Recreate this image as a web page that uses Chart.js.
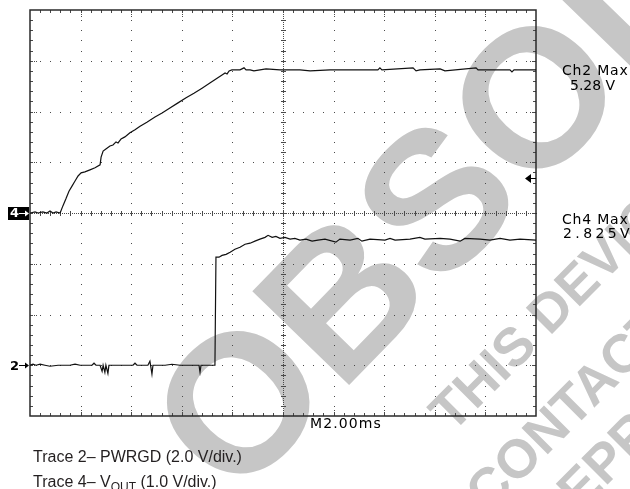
<!DOCTYPE html>
<html>
<head>
<meta charset="utf-8">
<title>PWRGD / VOUT scope capture</title>
<script src="https://cdn.jsdelivr.net/npm/chart.js@4.4.0/dist/chart.umd.min.js"></script>
<style>
  html, body { margin: 0; padding: 0; background: #fff; }
  #wrap { position: relative; width: 630px; height: 489px; overflow: hidden; }
  #scope { position: absolute; left: 0; top: 0; }
  .cap { position: absolute; left: 33px; font: 16px "Liberation Sans", Arial, sans-serif; color: #231f20; white-space: nowrap; }
  .cap sub { font-size: 12px; vertical-align: -4px; line-height: 0; }
</style>
</head>
<body>
<div id="wrap">
  <canvas id="scope" width="630" height="489"></canvas>
  <div class="cap" style="top:448px">Trace 2– PWRGD (2.0 V/div.)</div>
  <div class="cap" style="top:473px">Trace 4– V<sub>OUT</sub> (1.0 V/div.)</div>
</div>
<script>
// ===== SCOPE CAPTURE: M2.00ms/div, ch2 2 V/div, ch4 1 V/div =====

// Trace 4 - VOUT (time in ms, volts)
const t4 = [0, 0.20, 0.32, 0.51, 0.67, 0.79, 0.91, 1.03, 1.19, 1.30, 1.42, 1.54, 1.66, 1.78, 1.90,
  2.02, 2.17, 2.37, 2.57, 2.77, 2.81, 2.89, 3.00, 3.16, 3.28, 3.40, 3.48, 3.60, 3.75, 3.95,
  4.15, 4.35, 4.62, 4.94, 5.22, 5.53, 5.85, 6.17, 6.48, 6.80, 7.11, 7.35, 7.59, 7.71, 7.79,
  7.87, 7.98, 8.30, 8.46, 8.54, 8.70, 8.85, 9.09, 9.33, 9.88, 10.67, 11.07, 11.86, 13.75, 13.83,
  13.91, 15.14, 15.26, 15.41, 16.21, 16.40, 17.63, 17.71, 18.97, 19.05, 19.13, 20];
const v4 = [0, 0.02, 0, 0.02, 0, 0.04, 0, 0.02, 0, 0.14, 0.28, 0.43, 0.53, 0.63, 0.73,
  0.79, 0.81, 0.85, 0.89, 0.95, 1.10, 1.22, 1.26, 1.32, 1.34, 1.40, 1.38, 1.46, 1.50, 1.58,
  1.64, 1.71, 1.79, 1.89, 1.97, 2.07, 2.17, 2.27, 2.36, 2.46, 2.56, 2.64, 2.72, 2.76, 2.74,
  2.80, 2.82, 2.82, 2.86, 2.82, 2.82, 2.80, 2.82, 2.84, 2.82, 2.82, 2.80, 2.82, 2.82, 2.86,
  2.82, 2.86, 2.80, 2.82, 2.84, 2.80, 2.86, 2.82, 2.82, 2.78, 2.82, 2.82];

// Trace 2 - PWRGD (time in ms, volts)
const t2 = [0, 0.12, 0.24, 0.40, 0.59, 0.79, 1.11, 1.58, 1.78, 1.98, 2.45, 2.53, 2.61, 2.77, 2.85,
  2.89, 2.96, 3.00, 3.08, 3.12, 3.56, 4.07, 4.15, 4.23, 4.66, 4.74, 4.82, 4.86, 5.34, 5.61,
  5.93, 6.25, 6.68, 6.72, 6.76, 7.31, 7.35, 7.47, 7.59, 7.75, 7.91, 8.10, 8.30, 8.50, 8.70,
  8.89, 9.09, 9.29, 9.41, 9.57, 9.72, 9.88, 10.08, 10.28, 10.47, 10.67, 10.91, 11.15, 11.38, 11.66,
  12.09, 12.25, 12.65, 12.96, 13.12, 13.44, 14.03, 14.23, 14.43, 15.02, 15.41, 15.61, 16.21, 16.60, 17.00,
  17.19, 17.79, 18.18, 18.58, 18.97, 19.37, 20];
const v2 = [0, 0.04, 0, 0.04, 0, -0.04, 0, 0, 0.04, 0, 0, 0.08, 0, 0, -0.24,
  0, -0.28, 0, -0.32, 0, 0, 0, 0.08, 0, 0, 0.16, -0.35, 0, 0, 0.04,
  0, 0, 0, -0.28, 0, 0, 4.26, 4.26, 4.33, 4.37, 4.45, 4.57, 4.65, 4.77, 4.81,
  4.89, 4.97, 5.04, 5.12, 5.04, 5.08, 5.00, 5.04, 4.97, 5.00, 4.93, 4.97, 4.89, 4.93, 4.97,
  4.85, 4.97, 4.93, 5.00, 4.89, 4.97, 4.93, 5.00, 4.93, 4.97, 5.04, 4.97, 5.00, 4.97, 4.89,
  5.00, 4.97, 4.93, 5.00, 4.93, 4.97, 4.93];

// Scope readouts
const ch2Max = ['Ch2 Max', '5.28 V'];
const ch4Max = ['Ch4 Max', '2.825V'];
const timebase = 'M2.00ms';

// Watermark text
const stamp = 'OBSOLETE';
const notice = ['THIS DEVICE IS OBSOLETE', 'CONTACT YOUR ON SEMICONDUCTOR', 'REPRESENTATIVE FOR INFORMATION'];

const INK = '#111';
const GRID = '#4a4a4a';
const STAMP = '#c6c6c6';

const toXY = (ts, vs) => ts.map((t, i) => ({ x: t, y: vs[i] }));

// big grey stamp behind everything
const watermark = {
  id: 'watermark',
  beforeDraw(chart) {
    const ctx = chart.ctx;
    ctx.save();
    ctx.fillStyle = STAMP;
    ctx.translate(234, 504);
    ctx.rotate(-45.9 * Math.PI / 180);
    ctx.font = 'bold 196px "Liberation Sans", Arial, sans-serif';
    ctx.textBaseline = 'alphabetic';
    ctx.fillText(stamp, 0, 0);
    ctx.restore();

    ctx.save();
    ctx.fillStyle = STAMP;
    ctx.font = 'bold 54px "Liberation Sans", Arial, sans-serif';
    const starts = [[452, 434], [488, 514], [552, 540]];
    notice.forEach((s, i) => {
      ctx.save();
      ctx.translate(starts[i][0], starts[i][1]);
      ctx.rotate(-45 * Math.PI / 180);
      ctx.fillText(s, 0, 0);
      ctx.restore();
    });
    ctx.restore();
  }
};

// graticule: 10 x 8 divisions, 5 minor steps each
const graticule = {
  id: 'graticule',
  beforeDatasetsDraw(chart) {
    const { ctx, chartArea: a } = chart;
    const w = a.right - a.left, h = a.bottom - a.top;
    const dx = w / 50, dy = h / 40;
    const dot = (px, py) => ctx.fillRect(Math.round(px), Math.round(py), 1, 1);
    ctx.save();
    ctx.fillStyle = GRID;

    // vertical division lines
    for (let i = 1; i < 10; i++) {
      const px = a.left + i * w / 10;
      if (i === 5) {
        for (let py = a.top; py <= a.bottom; py += 2) dot(px, py);
        for (let j = 1; j < 40; j++) ctx.fillRect(Math.round(px) - 2, Math.round(a.top + j * dy), 5, 1);
      } else {
        for (let j = 1; j < 40; j++) dot(px, a.top + j * dy);
        for (let k = 2; k <= 6; k += 2) { dot(px, a.top + k); dot(px, a.bottom - k); }
      }
    }
    // horizontal division lines
    for (let i = 1; i < 8; i++) {
      const py = a.top + i * h / 8;
      if (i === 4) {
        for (let px = a.left; px <= a.right; px += 2) dot(px, py);
        for (let j = 1; j < 50; j++) ctx.fillRect(Math.round(a.left + j * dx), Math.round(py) - 2, 1, 5);
      } else {
        for (let j = 1; j < 50; j++) dot(a.left + j * dx, py);
        for (let k = 2; k <= 6; k += 2) { dot(a.left + k, py); dot(a.right - k, py); }
      }
    }
    // border minor ticks
    for (let j = 1; j < 50; j++) {
      const px = Math.round(a.left + j * dx);
      ctx.fillRect(px, Math.round(a.top), 1, 3);
      ctx.fillRect(px, Math.round(a.bottom) - 3, 1, 3);
    }
    for (let j = 1; j < 40; j++) {
      const py = Math.round(a.top + j * dy);
      ctx.fillRect(Math.round(a.left), py, 3, 1);
      ctx.fillRect(Math.round(a.right) - 3, py, 3, 1);
    }
    ctx.strokeStyle = '#2a2a2a';
    ctx.lineWidth = 1.5;
    ctx.strokeRect(a.left, a.top, w, h);
    ctx.restore();
  }
};

// channel markers and readouts
const readouts = {
  id: 'readouts',
  afterDraw(chart) {
    const { ctx, chartArea: a, scales: { y2, y4 } } = chart;
    ctx.save();
    // ch4 ground marker (inverted box)
    const g4 = Math.round(y4.getPixelForValue(0));
    ctx.fillStyle = '#000';
    ctx.fillRect(8, g4 - 6, 21, 13);
    ctx.fillStyle = '#fff';
    ctx.font = 'bold 13px "DejaVu Sans", sans-serif';
    ctx.textBaseline = 'middle';
    ctx.fillText('4', 10, g4 + 1);
    ctx.fillRect(19, g4, 8, 1);
    ctx.beginPath(); ctx.moveTo(29, g4 + 0.5); ctx.lineTo(25, g4 - 2.5); ctx.lineTo(25, g4 + 3.5); ctx.fill();

    // ch2 ground marker
    const g2 = Math.round(y2.getPixelForValue(0));
    ctx.fillStyle = '#000';
    ctx.fillText('2', 10, g2 + 2);
    ctx.fillRect(19, g2, 8, 1);
    ctx.beginPath(); ctx.moveTo(29, g2 + 0.5); ctx.lineTo(25, g2 - 2.5); ctx.lineTo(25, g2 + 3.5); ctx.fill();

    // trigger level marker on right edge
    const tr = 178;
    ctx.beginPath(); ctx.moveTo(a.right - 11, tr + 0.5); ctx.lineTo(a.right - 5, tr - 4); ctx.lineTo(a.right - 5, tr + 5); ctx.fill();
    ctx.fillRect(a.right - 6, tr, 6, 1);

    // readouts
    ctx.textBaseline = 'alphabetic';
    ctx.font = '14px "DejaVu Sans", sans-serif';
    ctx.letterSpacing = '0.8px';
    ctx.fillText(ch2Max[0], 562, 75);
    ctx.fillText(ch4Max[0], 562, 224);
    ctx.letterSpacing = '0px';
    ctx.fillText(ch2Max[1], 570, 90);
    ctx.letterSpacing = '3.4px';
    ctx.fillText(ch4Max[1], 563, 238);
    ctx.letterSpacing = '1.1px';
    ctx.fillText(timebase, 310, 428);
    ctx.restore();
  }
};

new Chart(document.getElementById('scope'), {
  type: 'line',
  data: {
    datasets: [
      { label: 'Trace 4 - VOUT', data: toXY(t4, v4), yAxisID: 'y4' },
      { label: 'Trace 2 - PWRGD', data: toXY(t2, v2), yAxisID: 'y2' },
    ],
  },
  options: {
    responsive: false,
    animation: false,
    layout: { padding: { left: 30, right: 94, top: 10, bottom: 73 } },
    plugins: { legend: { display: false }, tooltip: { enabled: false } },
    elements: {
      point: { radius: 0 },
      line: { tension: 0, borderWidth: 1.2, borderColor: INK, fill: false },
    },
    scales: {
      x: { type: 'linear', min: 0, max: 20, display: false },
      y4: { type: 'linear', min: -4, max: 4, display: false },
      y2: { type: 'linear', min: -2, max: 14, display: false },
    },
  },
  plugins: [watermark, graticule, readouts],
});
</script>
</body>
</html>
